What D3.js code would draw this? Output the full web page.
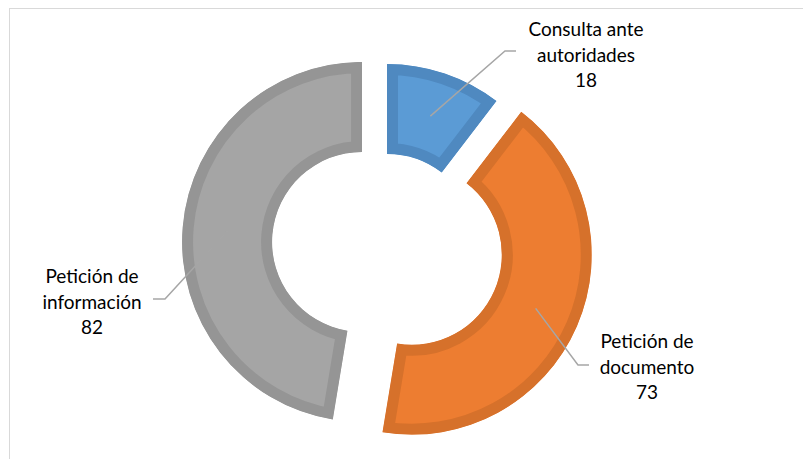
<!DOCTYPE html>
<html>
<head>
<meta charset="utf-8">
<script src="https://cdn.jsdelivr.net/npm/d3@7"></script>
<style>
  body { margin: 0; background: #fff; }
  text { font-family: Lato, "Noto Sans", sans-serif; font-size: 19px; fill: #000; }
</style>
</head>
<body>
<div id="chart"></div>
<script>
// data
const categories = ["Consulta ante autoridades", "Petición de documento", "Petición de información"];
const labelLines = [["Consulta ante", "autoridades"], ["Petición de", "documento"], ["Petición de", "información"]];
const values = [18, 73, 82];
const fills = ["#5B9BD5", "#ED7D31", "#A5A5A5"];
const strokes = ["#4F89C0", "#D6712B", "#959595"];

// layout
const width = 803, height = 459;
const center = {x: 387, y: 244};
const outerR = 180, innerR = 90, border = 11;
const explode = [0, 27, 25];
// label boxes: center x, first baseline, and the leader elbow / end
const labelPos = [
  {x: 586, y: 36, elbow: [505, 51], end: [516, 51]},
  {x: 647, y: 348, elbow: [578, 365], end: [589, 365]},
  {x: 92, y: 283, elbow: [165, 299], end: [153, 299]}
];
const lineH = 25.5;

const svg = d3.select("#chart").append("svg")
  .attr("width", width)
  .attr("height", height);

// chart area border (only top and left are inside the picture)
svg.append("rect")
  .attr("x", 9.5).attr("y", 8.5)
  .attr("width", 1000).attr("height", 1000)
  .attr("fill", "none")
  .attr("stroke", "#D9D9D9")
  .attr("stroke-width", 1);

const pie = d3.pie().sort(null).value(d => d);
const arcs = pie(values);

const arc = d3.arc().innerRadius(innerR).outerRadius(outerR);
const midArc = d3.arc().innerRadius((innerR + outerR) / 2).outerRadius((innerR + outerR) / 2);

function offset(d, i) {
  const a = (d.startAngle + d.endAngle) / 2;
  return [center.x + explode[i] * Math.sin(a), center.y - explode[i] * Math.cos(a)];
}

// clip each slice to itself so the border sits inside the shape
const defs = svg.append("defs");
defs.selectAll("clipPath")
  .data(arcs)
  .enter().append("clipPath")
  .attr("id", (d, i) => "clip" + i)
  .append("path")
  .attr("d", arc);

const g = svg.append("g");
const slices = g.selectAll("g.slice")
  .data(arcs)
  .enter().append("g")
  .attr("class", "slice")
  .attr("transform", (d, i) => "translate(" + offset(d, i) + ")");

slices.append("path")
  .attr("d", arc)
  .attr("clip-path", (d, i) => "url(#clip" + i + ")")
  .attr("fill", (d, i) => fills[i])
  .attr("stroke", (d, i) => strokes[i])
  .attr("stroke-width", border * 2)
  .attr("stroke-linejoin", "miter");

// leader lines
g.selectAll("polyline.leader")
  .data(arcs)
  .enter().append("polyline")
  .attr("class", "leader")
  .attr("points", (d, i) => {
    const o = offset(d, i), c = midArc.centroid(d);
    return [[o[0] + c[0], o[1] + c[1]], labelPos[i].elbow, labelPos[i].end].join(" ");
  })
  .attr("fill", "none")
  .attr("stroke", "#A6A6A6")
  .attr("stroke-width", 1.5);

// labels
const labels = svg.selectAll("text.label")
  .data(arcs)
  .enter().append("text")
  .attr("class", "label")
  .attr("text-anchor", "middle");

labels.each(function(d, i) {
  const t = d3.select(this);
  labelLines[i].concat([String(values[i])]).forEach((s, k) => {
    t.append("tspan")
      .attr("x", labelPos[i].x)
      .attr("y", labelPos[i].y + k * lineH)
      .text(s);
  });
});
</script>
</body>
</html>
